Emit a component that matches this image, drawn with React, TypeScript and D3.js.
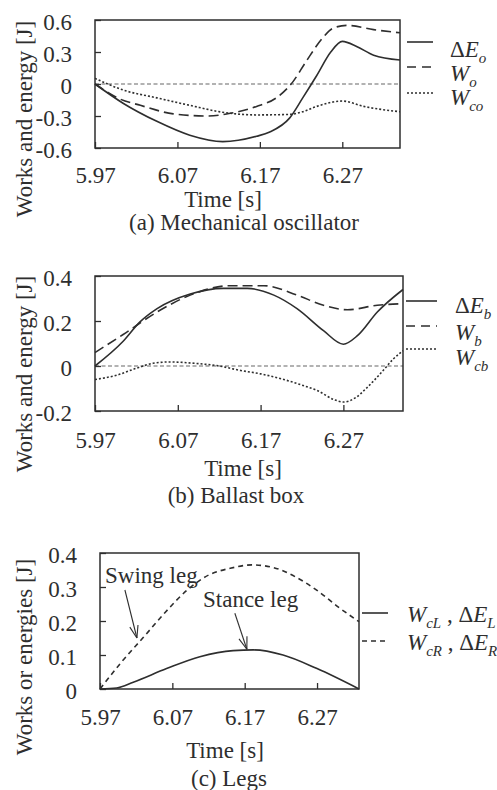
import React, { useEffect, useRef } from 'react';
import * as d3 from 'd3';

// shared time ticks
const timeTicks = [5.97, 6.07, 6.17, 6.27];

// (a) Mechanical oscillator
const yTicksA = [-0.6, -0.3, 0, 0.3, 0.6];
const tDeltaEo = [5.97, 6.004, 6.045, 6.085, 6.125, 6.166, 6.182, 6.206, 6.222, 6.239, 6.256, 6.27, 6.288, 6.308, 6.34];
const deltaEo = [0, -0.18, -0.35, -0.48, -0.54, -0.49, -0.45, -0.32, -0.13, 0.08, 0.3, 0.4, 0.35, 0.27, 0.225];
const tWo = [5.97, 6.0, 6.025, 6.065, 6.106, 6.134, 6.166, 6.19, 6.21, 6.226, 6.246, 6.258, 6.275, 6.308, 6.34];
const Wo = [0, -0.14, -0.2, -0.28, -0.3, -0.275, -0.21, -0.13, 0.02, 0.21, 0.43, 0.52, 0.55, 0.51, 0.48];
const tWco = [5.97, 6.004, 6.045, 6.085, 6.125, 6.166, 6.206, 6.222, 6.239, 6.27, 6.296, 6.34];
const Wco = [0.053, -0.056, -0.13, -0.2, -0.265, -0.29, -0.285, -0.26, -0.21, -0.16, -0.21, -0.26];

// (b) Ballast box
const yTicksB = [-0.2, 0, 0.2, 0.4];
const tDeltaEb = [5.97, 6.004, 6.024, 6.045, 6.085, 6.125, 6.154, 6.186, 6.214, 6.246, 6.27, 6.287, 6.311, 6.342];
const deltaEb = [0, 0.11, 0.195, 0.255, 0.32, 0.345, 0.345, 0.315, 0.255, 0.157, 0.097, 0.135, 0.24, 0.34];
const tWb = [5.97, 6.004, 6.045, 6.085, 6.134, 6.174, 6.214, 6.246, 6.275, 6.311, 6.342];
const Wb = [0.06, 0.14, 0.24, 0.315, 0.357, 0.357, 0.315, 0.27, 0.25, 0.27, 0.277];
const tWcb = [5.97, 5.997, 6.02, 6.04, 6.06, 6.09, 6.12, 6.146, 6.17, 6.198, 6.22, 6.239, 6.259, 6.27, 6.285, 6.298, 6.318, 6.33, 6.342];
const Wcb = [-0.06, -0.04, -0.01, 0.012, 0.018, 0.012, 0, -0.02, -0.035, -0.06, -0.085, -0.11, -0.15, -0.16, -0.14, -0.098, -0.02, 0.03, 0.068];

// (c) Legs
const yTicksC = [0, 0.1, 0.2, 0.3, 0.4];
const tStance = [5.97, 5.993, 6.016, 6.062, 6.108, 6.154, 6.182, 6.223, 6.27, 6.328];
const stance = [0, 0.003, 0.02, 0.06, 0.095, 0.113, 0.115, 0.1, 0.06, 0];
const tSwing = [5.97, 6.0, 6.03, 6.06, 6.09, 6.12, 6.15, 6.18, 6.21, 6.24, 6.27, 6.3, 6.328];
const swing = [0, 0.08, 0.152, 0.225, 0.29, 0.335, 0.355, 0.365, 0.357, 0.33, 0.29, 0.24, 0.198];

const FONT = '"Liberation Serif", "Times New Roman", serif';
const INK = '#2e2e2e';
const FS = 23;

// [text, italic, subscript]
const legendA = [
  { parts: [['Δ', 0, 0], ['E', 1, 0], ['o', 1, 1]], dash: null },
  { parts: [['W', 1, 0], ['o', 1, 1]], dash: '9,6' },
  { parts: [['W', 1, 0], ['co', 1, 1]], dash: '2,2' },
];
const legendB = [
  { parts: [['Δ', 0, 0], ['E', 1, 0], ['b', 1, 1]], dash: null },
  { parts: [['W', 1, 0], ['b', 1, 1]], dash: '9,6' },
  { parts: [['W', 1, 0], ['cb', 1, 1]], dash: '2,2' },
];
const legendC = [
  { parts: [['W', 1, 0], ['cL', 1, 1], [' , Δ', 0, 0], ['E', 1, 0], ['L', 1, 1]], dash: null },
  { parts: [['W', 1, 0], ['cR', 1, 1], [' , Δ', 0, 0], ['E', 1, 0], ['R', 1, 1]], dash: '5,4' },
];

const panels = [
  {
    left: 95, right: 400, top: 20, bottom: 148, tickPad: 19,
    xDomain: [5.97, 6.34], yDomain: [-0.6, 0.6], yTicks: yTicksA, zero: true,
    series: [
      { t: tDeltaEo, v: deltaEo, dash: null },
      { t: tWo, v: Wo, dash: '10,5' },
      { t: tWco, v: Wco, dash: '2,2' },
    ],
    yTitle: 'Works and energy [J]', yTitleY: 119,
    timeX: 223, timeY: 207, title: '(a) Mechanical oscillator', titleX: 244, titleY: 230,
    legend: legendA, legX1: 407, legX2: 433, legLines: [42, 67, 93], legTextX: 450, legText: [57, 81, 105],
    notes: [],
  },
  {
    left: 95, right: 403, top: 276, bottom: 411, tickPad: 20.5,
    xDomain: [5.97, 6.342], yDomain: [-0.2, 0.4], yTicks: yTicksB, zero: true,
    series: [
      { t: tDeltaEb, v: deltaEb, dash: null },
      { t: tWb, v: Wb, dash: '10,5' },
      { t: tWcb, v: Wcb, dash: '2,2' },
    ],
    yTitle: 'Works and energy [J]', yTitleY: 374,
    timeX: 243, timeY: 476, title: '(b) Ballast box', titleX: 236, titleY: 503,
    legend: legendB, legX1: 406, legX2: 437, legLines: [301, 326, 349], legTextX: 455, legText: [313, 340, 365],
    notes: [],
  },
  {
    left: 100, right: 359, top: 553, bottom: 689, tickPad: 20,
    xDomain: [5.97, 6.328], yDomain: [0, 0.4], yTicks: yTicksC, zero: false,
    series: [
      { t: tStance, v: stance, dash: null },
      { t: tSwing, v: swing, dash: '5,4' },
    ],
    yTitle: 'Works or energies [J]', yTitleY: 657,
    timeX: 225, timeY: 758, title: '(c) Legs', titleX: 229, titleY: 786,
    legend: legendC, legX1: 362, legX2: 388, legLines: [613, 641], legTextX: 407, legText: [622, 650],
    notes: [
      { label: 'Swing leg', lx: 105, ly: 583, at: [6.021, 0.15], dx: -12, dy: -48 },
      { label: 'Stance leg', lx: 203, ly: 607, at: [6.173, 0.117], dx: -12, dy: -36 },
    ],
  },
];

function richText(sel, parts) {
  let wasSub = false;
  parts.forEach(([txt, it, sub]) => {
    const ts = sel.append('tspan').text(txt)
      .attr('font-style', it ? 'italic' : 'normal')
      .attr('font-size', sub ? 15 : FS);
    if (sub && !wasSub) ts.attr('dy', 6);
    if (!sub && wasSub) ts.attr('dy', -6);
    wasSub = !!sub;
  });
}

function drawPanel(root, p) {
  const g = root.append('g');
  const x = d3.scaleLinear().domain(p.xDomain).range([p.left, p.right]);
  const y = d3.scaleLinear().domain(p.yDomain).range([p.bottom, p.top]);

  if (p.zero) {
    g.append('line')
      .attr('x1', p.left).attr('x2', p.right)
      .attr('y1', y(0)).attr('y2', y(0))
      .attr('stroke', '#999').attr('stroke-width', 1.3)
      .attr('stroke-dasharray', '4,2.5');
  }

  const line = d3.line().x((d) => x(d[0])).y((d) => y(d[1])).curve(d3.curveMonotoneX);
  p.series.forEach((s) => {
    g.append('path')
      .attr('d', line(d3.zip(s.t, s.v)))
      .attr('fill', 'none')
      .attr('stroke', INK)
      .attr('stroke-width', 1.6)
      .attr('stroke-dasharray', s.dash)
      .attr('stroke-linejoin', 'round');
  });

  // axes with inward ticks
  const ax = g.append('g')
    .attr('transform', `translate(0,${p.bottom})`)
    .call(d3.axisBottom(x).tickValues(timeTicks).tickFormat(d3.format('.2f'))
      .tickSizeInner(-6).tickSizeOuter(0).tickPadding(p.tickPad));
  const ay = g.append('g')
    .attr('transform', `translate(${p.left},0)`)
    .call(d3.axisLeft(y).tickValues(p.yTicks).tickFormat((d) => String(d))
      .tickSizeInner(-6).tickSizeOuter(0).tickPadding(23));
  [ax, ay].forEach((a) => {
    a.select('.domain').remove();
    a.selectAll('line').attr('stroke', INK).attr('stroke-width', 1.3);
    a.selectAll('text').attr('font-family', FONT).attr('font-size', FS).attr('fill', INK);
  });
  ay.selectAll('text').attr('dy', '0.4em');

  g.append('rect')
    .attr('x', p.left).attr('y', p.top)
    .attr('width', p.right - p.left).attr('height', p.bottom - p.top)
    .attr('fill', 'none').attr('stroke', INK).attr('stroke-width', 1.5);

  const txt = (sx, sy, s, anchor = 'middle') =>
    g.append('text').attr('x', sx).attr('y', sy).attr('text-anchor', anchor)
      .attr('font-family', FONT).attr('font-size', FS).attr('fill', INK).text(s);

  txt(p.timeX, p.timeY, 'Time [s]');
  txt(p.titleX, p.titleY, p.title);
  g.append('text')
    .attr('transform', `translate(32,${p.yTitleY}) rotate(-90)`)
    .attr('text-anchor', 'middle')
    .attr('font-family', FONT).attr('font-size', FS).attr('fill', INK)
    .text(p.yTitle);

  // legend
  p.legend.forEach((e, i) => {
    g.append('line')
      .attr('x1', p.legX1).attr('x2', p.legX2)
      .attr('y1', p.legLines[i]).attr('y2', p.legLines[i])
      .attr('stroke', INK).attr('stroke-width', 1.6)
      .attr('stroke-dasharray', e.dash);
    const t = g.append('text')
      .attr('x', p.legTextX).attr('y', p.legText[i])
      .attr('font-family', FONT).attr('font-size', FS).attr('fill', INK);
    richText(t, e.parts);
  });

  // annotations with open arrowheads
  p.notes.forEach((n) => {
    txt(n.lx, n.ly, n.label, 'start');
    const tx = x(n.at[0]);
    const ty = y(n.at[1]);
    const sx = tx + n.dx;
    const sy = ty + n.dy;
    g.append('line').attr('x1', sx).attr('y1', sy).attr('x2', tx).attr('y2', ty)
      .attr('stroke', INK).attr('stroke-width', 1.1);
    const ang = Math.atan2(sy - ty, sx - tx);
    [-0.33, 0.33].forEach((da) => {
      g.append('line')
        .attr('x1', tx).attr('y1', ty)
        .attr('x2', tx + 13 * Math.cos(ang + da)).attr('y2', ty + 13 * Math.sin(ang + da))
        .attr('stroke', INK).attr('stroke-width', 1.1);
    });
  });
}

export default function App() {
  const svgRef = useRef(null);

  useEffect(() => {
    const svg = d3.select(svgRef.current);
    svg.selectAll('*').remove();
    svg.append('rect').attr('width', 497).attr('height', 790).attr('fill', '#fff');
    panels.forEach((p) => drawPanel(svg, p));
  }, []);

  return (
    <svg
      ref={svgRef}
      width={497}
      height={790}
      style={{ position: 'absolute', left: 0, top: 0, display: 'block' }}
    />
  );
}
